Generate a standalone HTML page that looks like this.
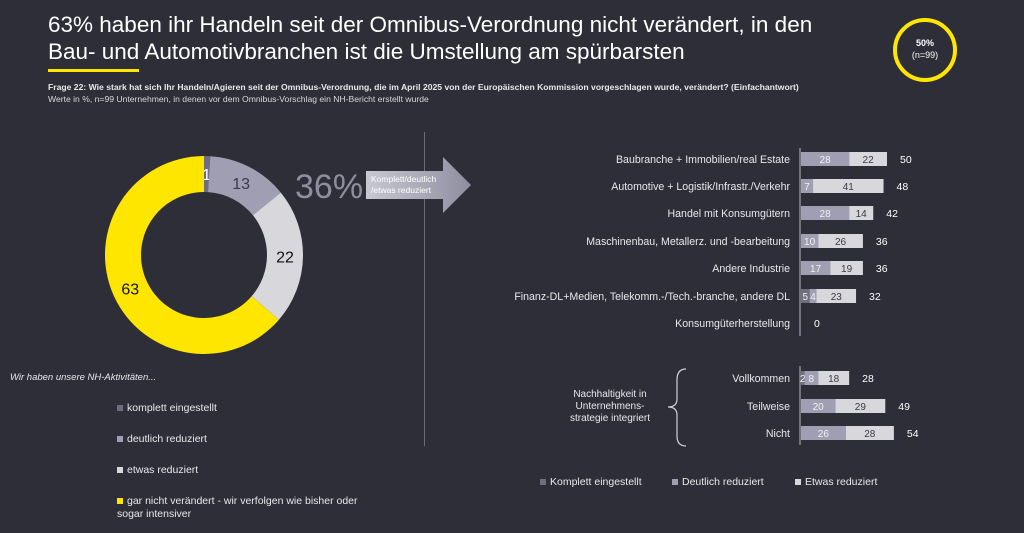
<!DOCTYPE html>
<html><head><meta charset="utf-8">
<style>
body{margin:0;width:1024px;height:533px;background:#2e2e38;font-family:"Liberation Sans",sans-serif;color:#fff;overflow:hidden;position:relative}
.abs{position:absolute}
.lg{font-size:10.5px;color:#e8e8ec}
</style></head>
<body>
<div class="abs" style="left:48px;top:11px;font-size:22.5px;line-height:27px;color:#fff">63% haben ihr Handeln seit der Omnibus-Verordnung nicht verändert, in den<br>Bau- und Automotivbranchen ist die Umstellung am spürbarsten</div>
<div class="abs" style="left:48px;top:69px;width:91px;height:3px;background:#ffe600"></div>
<div class="abs" style="left:48px;top:82px;font-size:8.6px;font-weight:bold;color:#e8e8ec">Frage 22: Wie stark hat sich Ihr Handeln/Agieren seit der Omnibus-Verordnung, die im April 2025 von der Europäischen Kommission vorgeschlagen wurde, verändert? (Einfachantwort)</div>
<div class="abs" style="left:48px;top:94px;font-size:8.6px;color:#d8d8de">Werte in %, n=99 Unternehmen, in denen vor dem Omnibus-Vorschlag ein NH-Bericht erstellt wurde</div>
<div class="abs" style="left:893px;top:18px;width:56px;height:56px;border:4px solid #ffe600;border-radius:50%;text-align:center;font-size:9px;line-height:12px;box-sizing:content-box"><div style="margin-top:15px;font-weight:bold">50%</div><div>(n=99)</div></div>
<div class="abs" style="left:424px;top:132px;width:1px;height:314px;background:#6a6a78"></div>

<svg class="abs" style="left:0;top:0" width="1024" height="533" id="chart">
<g id="donut"></g>
<g id="bars"></g>
<line x1="800" y1="148" x2="800" y2="336" stroke="#b8b8c4" stroke-width="1"/>
<line x1="800" y1="366" x2="800" y2="445" stroke="#b8b8c4" stroke-width="1"/>
<path d="M686,369 Q677,369 677,380 L677,399 Q677,407 668,407 Q677,407 677,415 L677,436 Q677,446 686,446" fill="none" stroke="#d0d0d8" stroke-width="1.2"/>
<defs><linearGradient id="ag" x1="0" x2="1"><stop offset="0" stop-color="#c8c8d2"/><stop offset="1" stop-color="#8e8ea0"/></linearGradient></defs>
<path d="M366,171 L443,171 L443,157 L471,185 L443,213 L443,199 L366,199 Z" fill="url(#ag)"/>
<text x="371" y="182" font-size="8.5" fill="#fff">Komplett/deutlich</text>
<text x="371" y="193" font-size="8.5" fill="#fff">/etwas reduziert</text>
<text x="295" y="198" font-size="34" fill="#8e8ea0">36%</text>
</svg>

<div class="abs" style="left:550px;top:389px;width:120px;text-align:center;font-size:10px;line-height:12px;color:#e8e8ec">Nachhaltigkeit in Unternehmens-<br>strategie integriert</div>
<div class="abs" style="left:10px;top:372px;font-size:9.5px;font-style:italic;color:#e8e8ec">Wir haben unsere NH-Aktivitäten...</div>
<div class="abs lg" style="left:117px;top:402px"><span style="display:inline-block;width:6px;height:6px;background:#6f6e80;margin-right:4px"></span>komplett eingestellt</div>
<div class="abs lg" style="left:117px;top:433px"><span style="display:inline-block;width:6px;height:6px;background:#a09eb2;margin-right:4px"></span>deutlich reduziert</div>
<div class="abs lg" style="left:117px;top:464px"><span style="display:inline-block;width:6px;height:6px;background:#d7d7dc;margin-right:4px"></span>etwas reduziert</div>
<div class="abs lg" style="left:117px;top:495px;line-height:13px"><span style="display:inline-block;width:6px;height:6px;background:#ffe600;margin-right:4px"></span>gar nicht verändert - wir verfolgen wie bisher oder<br>sogar intensiver</div>
<div class="abs lg" style="left:540px;top:476px"><span style="display:inline-block;width:6px;height:6px;background:#6f6e80;margin-right:4px"></span>Komplett eingestellt</div>
<div class="abs lg" style="left:672px;top:476px"><span style="display:inline-block;width:6px;height:6px;background:#a09eb2;margin-right:4px"></span>Deutlich reduziert</div>
<div class="abs lg" style="left:795px;top:476px"><span style="display:inline-block;width:6px;height:6px;background:#d7d7dc;margin-right:4px"></span>Etwas reduziert</div>

<script>
const donutLabels = ["komplett eingestellt","deutlich reduziert","etwas reduziert","gar nicht verändert"];
const donutValues = [1,13,22,63];
const donutColors = ["#6f6e80","#a09eb2","#d7d7dc","#ffe600"];
const barCategories = ["Baubranche + Immobilien/real Estate","Automotive + Logistik/Infrastr./Verkehr","Handel mit Konsumgütern","Maschinenbau, Metallerz. und -bearbeitung","Andere Industrie","Finanz-DL+Medien, Telekomm.-/Tech.-branche, andere DL","Konsumgüterherstellung","Vollkommen","Teilweise","Nicht"];
const komplettValues = [0,0,0,0,0,5,0,2,0,0];
const deutlichValues = [28,7,28,10,17,4,0,8,20,26];
const etwasValues = [22,41,14,26,19,23,0,18,29,28];
const totalValues = [50,48,42,36,36,32,0,28,49,54];

const NS="http://www.w3.org/2000/svg";
function mk(t,a,p){const e=document.createElementNS(NS,t);for(const k in a)e.setAttribute(k,a[k]);p.appendChild(e);return e;}
const dg=document.getElementById('donut');
const cx=204,cy=255,R=99,r=63;
const sum=donutValues.reduce((a,b)=>a+b,0);
let acc=0;
function pt(rad,f){const a=f*2*Math.PI-Math.PI/2;return [cx+rad*Math.cos(a),cy+rad*Math.sin(a)];}
donutValues.forEach((v,i)=>{
  const f0=acc/sum,f1=(acc+v)/sum;acc+=v;
  const [x0,y0]=pt(R,f0),[x1,y1]=pt(R,f1),[x2,y2]=pt(r,f1),[x3,y3]=pt(r,f0);
  const lg=(f1-f0)>0.5?1:0;
  const p=mk('path',{d:`M${x0},${y0}A${R},${R} 0 ${lg} 1 ${x1},${y1}L${x2},${y2}A${r},${r} 0 ${lg} 0 ${x3},${y3}Z`,fill:donutColors[i]},dg);
  
  
  const fm=(f0+f1)/2;const [lx,ly]=pt((R+r)/2,fm);
  const t=mk('text',{x:lx,y:ly+6,'font-size':16,'text-anchor':'middle',fill:i==0?'#fff':(i==1?'#3a3a48':'#111')},dg);
  t.textContent=v;
  
  
});
const bg=document.getElementById('bars');
const x0=800,sc=1.72,bh=14;
const rowY=[159,186,213,241,268,296,323,378,406,433];
function xs(v){return v*sc;}
barCategories.forEach((c,i)=>{
  const y=rowY[i];
  const lab=mk('text',{x:790,y:y+4,'font-size':10.6,'text-anchor':'end',fill:'#e8e8ec'},bg);
  lab.textContent=c;
  
  
  let x=x0+1;
  [[komplettValues,'#6f6e80'],[deutlichValues,'#a09eb2'],[etwasValues,'#d7d7dc']].forEach(([arr,col],k)=>{
    const v=arr[i];if(!v)return;
    const w=xs(v);
    const rc=mk('rect',{x:x,y:y-bh/2,width:w,height:bh,fill:col},bg);
    
    
    const t=mk('text',{x:x+w/2,y:y+4,'font-size':10,'text-anchor':'middle',fill:k==2?'#3a3a48':'#f0f0f4'},bg);
    t.textContent=v;
    
    
    x+=w;
  });
  const tt=mk('text',{x:x0+xs(totalValues[i])+14,y:y+4,'font-size':10.5,fill:'#fff'},bg);
  tt.textContent=totalValues[i];
  
  
});
</script>
</body></html>
